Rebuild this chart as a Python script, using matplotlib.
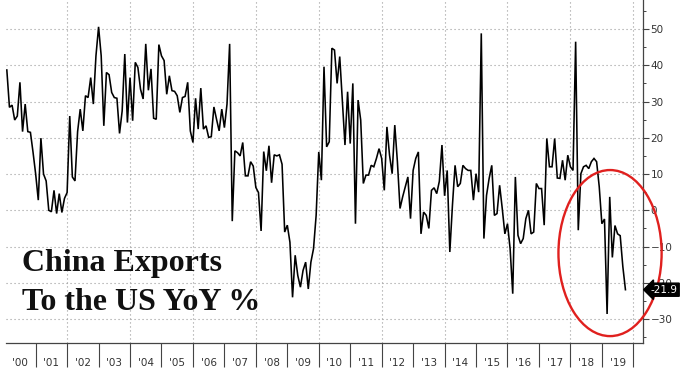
import numpy as np
import pandas as pd
import matplotlib
matplotlib.use("Agg")
import matplotlib.pyplot as plt
from matplotlib.patches import Ellipse
from matplotlib.ticker import FixedLocator, MultipleLocator, NullFormatter
import matplotlib.transforms as mtransforms

# ---- data: China exports to the US, YoY %, monthly from Jan 2000 ----
start_month = "2000-01"
yoy = [
    38.7, 28.4, 29.0, 24.9, 26.0, 35.3, 21.7, 29.3, 21.7, 21.5, 16.0, 10.0,   # 2000
    2.8, 19.9, 10.0, 8.1, 0.0, -0.4, 5.5, -0.9, 4.6, -0.6, 3.3, 4.9,          # 2001
    26.0, 9.2, 8.1, 21.7, 27.9, 21.9, 31.6, 31.1, 36.6, 29.3, 42.6, 50.6,     # 2002
    42.6, 23.3, 38.0, 37.4, 32.5, 31.1, 30.9, 21.2, 27.4, 43.1, 24.2, 36.6,   # 2003
    24.7, 40.8, 39.4, 33.4, 30.7, 45.9, 33.1, 39.0, 25.4, 25.1, 45.7, 42.6,   # 2004
    41.3, 32.0, 37.1, 33.0, 32.8, 31.6, 27.0, 31.1, 31.4, 35.3, 21.9, 18.7,   # 2005
    30.9, 22.4, 33.7, 22.4, 23.3, 20.1, 20.3, 28.5, 25.1, 21.9, 27.9, 22.8,   # 2006
    29.3, 45.9, -3.0, 16.4, 15.9, 15.0, 18.7, 9.5, 9.5, 13.4, 12.2, 6.3,      # 2007
    4.9, -5.7, 16.2, 10.9, 17.8, 7.6, 15.3, 15.0, 15.3, 12.7, -6.0, -4.1,     # 2008
    -8.8, -24.0, -12.4, -18.0, -21.2, -16.6, -14.3, -21.7, -14.3, -10.6, -1.4, 16.1,  # 2009
    8.3, 39.6, 17.5, 18.9, 44.7, 44.2, 35.0, 42.4, 30.4, 18.0, 32.7, 18.4,    # 2010
    35.0, -3.7, 30.4, 24.9, 7.4, 9.7, 9.7, 12.4, 12.0, 14.3, 17.0, 14.3,      # 2011
    5.5, 23.0, 15.2, 10.1, 23.5, 13.4, 0.5, 3.7, 6.5, 9.2, -2.3, 11.0,        # 2012
    14.3, 16.1, -6.5, -0.5, -1.4, -5.0, 5.5, 6.2, 4.6, 8.0, 18.0, 4.0,        # 2013
    11.0, -11.5, 1.4, 12.4, 6.5, 7.4, 12.4, 11.5, 11.0, 11.0, 2.8, 10.1,      # 2014
    5.0, 48.8, -7.8, 4.1, 8.8, 12.4, -1.4, -0.9, 6.9, 0.5, -6.5, -3.7,        # 2015
    -10.6, -23.0, 9.2, -6.9, -9.2, -7.8, -2.3, 0.0, -6.5, -6.0, 7.4, 6.0,     # 2016
    6.0, -4.1, 19.8, 12.0, 12.0, 19.8, 8.9, 8.8, 13.8, 8.3, 15.2, 12.0,       # 2017
    11.0, 46.5, -5.5, 10.1, 12.0, 12.4, 11.5, 13.4, 14.3, 13.4, 6.5, -3.7,    # 2018
    -2.4, -28.6, 3.7, -13.0, -4.2, -6.5, -7.0, -15.5, -21.9,                  # 2019
]
year_labels = ["'00", "'01", "'02", "'03", "'04", "'05", "'06", "'07", "'08", "'09",
               "'10", "'11", "'12", "'13", "'14", "'15", "'16", "'17", "'18", "'19"]
y_ticks = [-30, -20, -10, 0, 10, 20, 30, 40, 50]
last_label = "-21.9"
title_lines = ["China Exports", "To the US YoY %"]

dates = pd.date_range(start_month, periods=len(yoy), freq="MS")
xpos = dates.year + dates.month / 12.0
first_year = 2000
years = np.arange(first_year, first_year + len(year_labels) + 1)

fig = plt.figure(figsize=(6.8, 3.69), dpi=100)
W, H = 680, 369
ax = fig.add_axes([6 / W, 26 / H, 637 / W, 343 / H])

ax.set_xlim(2000.057, 2020.308)
ax.set_ylim(-36.6, 58.0)

# grid
grid_kw = dict(color="#9a9a9a", lw=0.8, ls=(0, (1, 2.6)), zorder=1)
for yv in y_ticks:
    ax.axhline(yv, **grid_kw)
for yr in years[2::2]:
    ax.axvline(yr, **grid_kw)

ax.plot(xpos, yoy, color="black", lw=1.15, zorder=3, solid_joinstyle="miter")

# spines
for s in ["left", "top"]:
    ax.spines[s].set_visible(False)
for s in ["right", "bottom"]:
    ax.spines[s].set_color("#444444")
    ax.spines[s].set_linewidth(0.9)

# y axis on right
ax.yaxis.tick_right()
ax.yaxis.set_major_locator(FixedLocator(y_ticks))
ax.yaxis.set_minor_locator(MultipleLocator(5))
ax.tick_params(axis="y", which="major", length=4, width=0.8, color="#444444",
               labelsize=7.5, labelcolor="#333333", pad=1.5)
ax.tick_params(axis="y", which="minor", length=2, width=0.7, color="#444444")

# x axis: long ticks at year boundaries, labels centred in each year
ax.xaxis.set_major_locator(FixedLocator(years[1:]))
ax.xaxis.set_major_formatter(NullFormatter())
ax.xaxis.set_minor_locator(FixedLocator(years[:-1] + 0.5))
ax.set_xticklabels(year_labels, minor=True)
ax.tick_params(axis="x", which="major", length=17.5, width=0.8, color="#444444")
ax.tick_params(axis="x", which="minor", length=0, labelsize=7.5,
               labelcolor="#333333", pad=10.5)

# last value tag
trans = mtransforms.blended_transform_factory(ax.transAxes, ax.transData)
ax.text(1.012, yoy[-1], last_label, transform=trans, ha="left", va="center",
        color="white", fontsize=7.5, zorder=6, clip_on=False,
        bbox=dict(boxstyle="larrow,pad=0.15", fc="black", ec="black"))

# red ellipse highlight
ell = Ellipse((2019.26, -11.8), width=3.28, height=45.8, fill=False,
              ec="#e0201e", lw=1.7, clip_on=False, zorder=5)
ax.add_patch(ell)

# title
for k, line in enumerate(title_lines):
    fig.text(22 / W, (H - 271.5 - 38.5 * k) / H, line, fontfamily="Liberation Serif",
             fontweight="bold", fontsize=23, va="baseline", ha="left", color="#111111")

fig.savefig("out.png", dpi=100)
